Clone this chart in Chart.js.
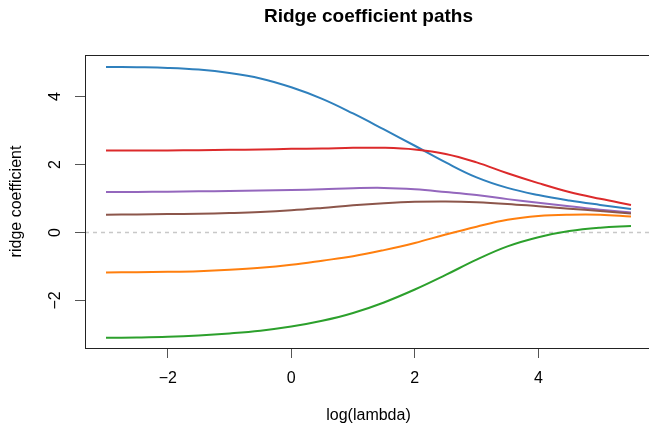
<!DOCTYPE html>
<html>
<head>
<meta charset="utf-8">
<script src="https://cdn.jsdelivr.net/npm/chart.js@4"></script>
<style>
  html, body { margin:0; padding:0; background:#fff; overflow:hidden; }
  #wrap { width:656px; height:427px; }
</style>
</head>
<body>
<div id="wrap"><canvas id="c" width="656" height="427"></canvas></div>
<script>
// log(lambda) grid the paths were read at
const logLambda = [-3,-2.5,-2,-1.5,-1,-0.5,0,0.5,1,1.5,2,2.5,3,3.5,4,4.5,5,5.5];

const pathBlue   = [4.87,4.86,4.84,4.79,4.69,4.53,4.27,3.93,3.50,3.03,2.55,2.06,1.62,1.31,1.10,0.94,0.81,0.69];
const pathOrange = [-1.18,-1.17,-1.16,-1.14,-1.10,-1.04,-0.95,-0.83,-0.70,-0.52,-0.31,-0.06,0.17,0.37,0.48,0.52,0.52,0.47];
const pathGreen  = [-3.10,-3.09,-3.07,-3.03,-2.97,-2.89,-2.77,-2.60,-2.37,-2.06,-1.68,-1.25,-0.80,-0.41,-0.14,0.04,0.14,0.19];
const pathRed    = [2.41,2.41,2.41,2.42,2.43,2.44,2.46,2.47,2.49,2.49,2.44,2.31,2.06,1.74,1.45,1.19,0.99,0.81];
const pathPurple = [1.19,1.19,1.20,1.21,1.22,1.23,1.25,1.27,1.30,1.31,1.27,1.19,1.10,0.98,0.87,0.77,0.67,0.59];
const pathBrown  = [0.52,0.53,0.54,0.55,0.57,0.60,0.65,0.72,0.80,0.86,0.90,0.91,0.89,0.84,0.77,0.70,0.63,0.56];

const xTicks = [-2,0,2,4];
const yTicks = [-2,0,2,4];

const series = [pathBlue, pathOrange, pathGreen, pathRed, pathPurple, pathBrown];
const colors = ['#2f80bd','#ff7f0e','#2ca02c','#dc2a2b','#9467bd','#8c564b'];

const FONT = "'Liberation Sans', Arial, Helvetica, sans-serif";
const minus = v => String(v).replace('-', '\u2212');

// dashed zero line + full box like base R
const rFrame = {
  id:'rFrame',
  beforeDatasetsDraw(chart) {
    const {ctx, chartArea:a, scales:{y}} = chart;
    const y0 = Math.round(y.getPixelForValue(0)) + 0.5;
    ctx.save();
    ctx.strokeStyle = '#c8c8c8'; ctx.lineWidth = 1.5; ctx.setLineDash([4,4]);
    ctx.beginPath(); ctx.moveTo(a.left, y0); ctx.lineTo(a.right, y0); ctx.stroke();
    ctx.restore();
  },
  afterDraw(chart) {
    const {ctx, chartArea:a} = chart;
    ctx.save();
    ctx.strokeStyle = '#222'; ctx.lineWidth = 1;
    ctx.strokeRect(a.left + 0.5, a.top + 0.5, a.right - a.left, a.bottom - a.top);
    ctx.restore();
  }
};

new Chart(document.getElementById('c'), {
  type:'line',
  data:{
    datasets: series.map((s,i) => ({
      data: s.map((v,k) => ({x: logLambda[k], y: v})),
      borderColor: colors[i], borderWidth: 2, pointRadius: 0,
      tension: 0.4, fill:false, order: series.length - i
    }))
  },
  options:{
    responsive:false, animation:false, devicePixelRatio:1,
    layout:{ padding:{ left:0, right:4, top:0, bottom:0 } },
    plugins:{
      legend:{display:false}, tooltip:{enabled:false},
      title:{ display:true, text:'Ridge coefficient paths', fullSize:false, color:'#000',
        font:{family:FONT, size:19, weight:'bold'}, padding:{top:5, bottom:27.2} }
    },
    scales:{
      x:{ type:'linear', min:-3.34, max:5.84,
        afterBuildTicks: s => { s.ticks = xTicks.map(v => ({value:v})); },
        afterFit: s => { s.height = 79; },
        grid:{ display:true, drawOnChartArea:false, drawTicks:true, tickLength:10, tickColor:'#555' },
        border:{ display:false },
        ticks:{ color:'#000', font:{family:FONT, size:16}, padding:11, callback: minus, maxRotation:0 },
        title:{ display:true, text:'log(lambda)', color:'#000', font:{family:FONT, size:16}, padding:{top:0, bottom:1.5} }
      },
      y:{ type:'linear', min:-3.40, max:5.22,
        afterBuildTicks: s => { s.ticks = yTicks.map(v => ({value:v})); },
        afterFit: s => { s.width = 85; },
        grid:{ display:true, drawOnChartArea:false, drawTicks:true, tickLength:10, tickColor:'#555' },
        border:{ display:false },
        ticks:{ color:'#000', font:{family:FONT, size:16}, padding:10, callback: minus,
          minRotation:90, maxRotation:90, crossAlign:'center' },
        title:{ display:true, text:'ridge coefficient', color:'#000', font:{family:FONT, size:16}, padding:{top:7, bottom:0} }
      }
    }
  },
  plugins:[rFrame]
});
</script>
</body>
</html>
